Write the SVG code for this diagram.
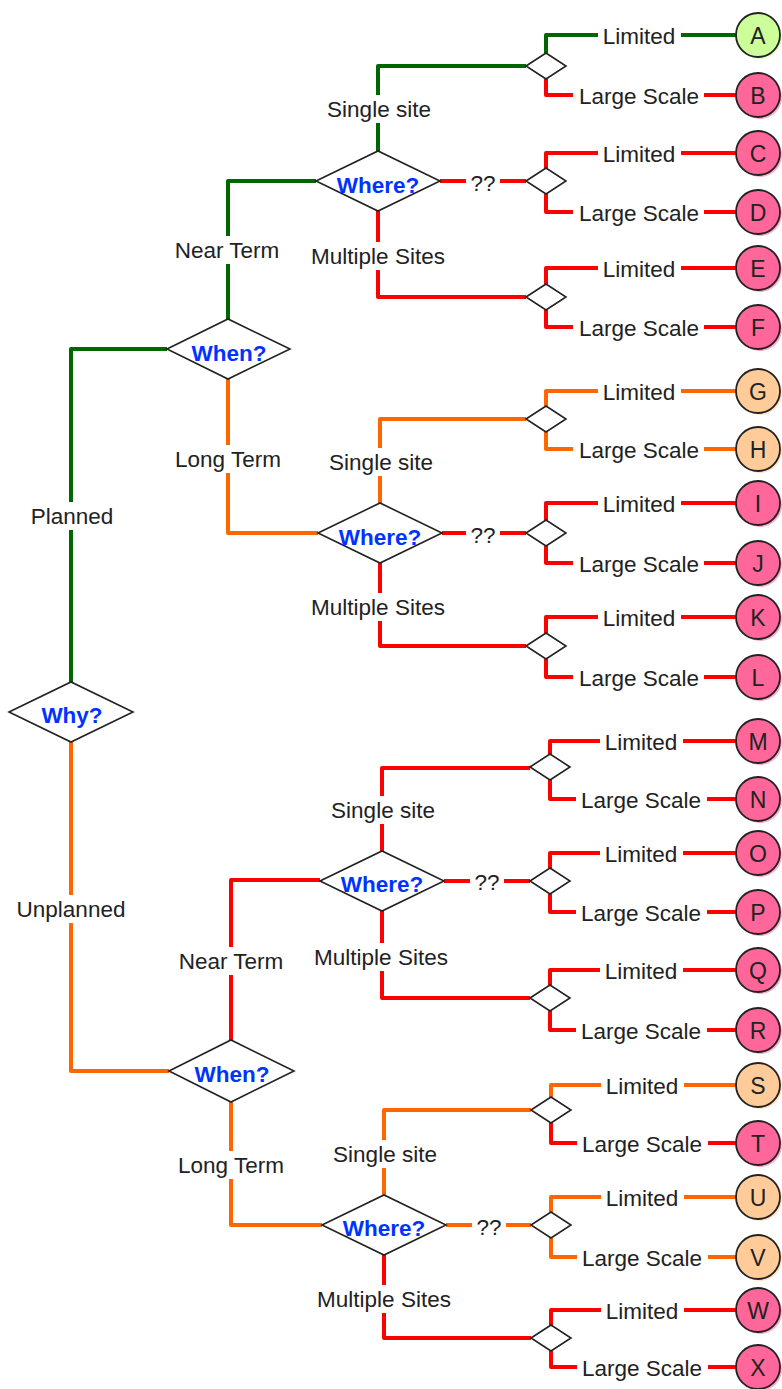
<svg xmlns="http://www.w3.org/2000/svg" width="782" height="1389" viewBox="0 0 782 1389">
<style>
.bg{fill:#fff}
.c{fill:none;stroke-width:4;stroke-linejoin:round}
.g{stroke:#006600}.o{stroke:#ff6600}.r{stroke:#ff0000}
.dia{fill:#fff;stroke:#222;stroke-width:1.6}
.q{font-family:"Liberation Sans",Arial,sans-serif;font-weight:bold;font-size:22.5px;fill:#0033ff;text-anchor:middle}
.lb{font-family:"Liberation Sans",Arial,sans-serif;font-size:22.5px;fill:#222;text-anchor:middle}
.lr{fill:#fff}
.ci{stroke:#222;stroke-width:1.8}
.sh{opacity:0.55}
.cg{fill:#ccff99}.cp{fill:#ff6699}.co{fill:#ffcc99}
.lt{font-family:"Liberation Sans",Arial,sans-serif;font-size:23px;fill:#222;text-anchor:middle}
</style>
<rect class="bg" x="0" y="0" width="782" height="1389"/>
<g id="connectors">
<path class="c g" d="M71,682 V349 H167"/>
<path class="c o" d="M71,742 V1071 H169"/>
<path class="c g" d="M228,319 V181 H316"/>
<path class="c o" d="M228,379 V533 H318"/>
<path class="c r" d="M231,1040 V880 H320"/>
<path class="c o" d="M231,1102 V1225 H322"/>
<path class="c g" d="M378,151 V66 H526"/>
<path class="c r" d="M440,181 H526"/>
<path class="c r" d="M378,211 V297 H526"/>
<path class="c o" d="M380,503 V419 H526"/>
<path class="c r" d="M442,533 H526"/>
<path class="c r" d="M380,563 V646 H526"/>
<path class="c r" d="M382,851 V768 H530"/>
<path class="c r" d="M444,881 H530"/>
<path class="c r" d="M382,911 V998 H530"/>
<path class="c o" d="M384,1195 V1110 H531"/>
<path class="c o" d="M446,1225 H531"/>
<path class="c r" d="M384,1255 V1338 H531"/>
<path class="c g" d="M546,53 V35 H736"/>
<path class="c r" d="M546,79 V95 H736"/>
<path class="c r" d="M546,168 V153 H736"/>
<path class="c r" d="M546,194 V212 H736"/>
<path class="c r" d="M546,284 V268 H736"/>
<path class="c r" d="M546,310 V327 H736"/>
<path class="c o" d="M546,406 V391 H736"/>
<path class="c o" d="M546,432 V449 H736"/>
<path class="c r" d="M546,520 V503 H736"/>
<path class="c r" d="M546,546 V563 H736"/>
<path class="c r" d="M546,633 V617 H736"/>
<path class="c r" d="M546,659 V677 H736"/>
<path class="c r" d="M550,754 V741 H736"/>
<path class="c r" d="M550,780 V799 H736"/>
<path class="c r" d="M550,868 V853 H736"/>
<path class="c r" d="M550,894 V912 H736"/>
<path class="c r" d="M550,985 V970 H736"/>
<path class="c r" d="M550,1011 V1030 H736"/>
<path class="c o" d="M551,1097 V1085 H736"/>
<path class="c r" d="M551,1123 V1143 H736"/>
<path class="c o" d="M551,1212 V1197 H736"/>
<path class="c o" d="M551,1238 V1257 H736"/>
<path class="c r" d="M551,1325 V1310 H736"/>
<path class="c r" d="M551,1351 V1367 H736"/>
<rect class="lr" x="27" y="502" width="90" height="28"/><text class="lb" x="72" y="524">Planned</text>
<rect class="lr" x="15" y="895" width="113" height="28"/><text class="lb" x="71" y="917">Unplanned</text>
<rect class="lr" x="171" y="236" width="114" height="28"/><text class="lb" x="227" y="258">Near Term</text>
<rect class="lr" x="172" y="445" width="115" height="28"/><text class="lb" x="228" y="467">Long Term</text>
<rect class="lr" x="174" y="947" width="114" height="28"/><text class="lb" x="231" y="969">Near Term</text>
<rect class="lr" x="174" y="1151" width="115" height="28"/><text class="lb" x="231" y="1173">Long Term</text>
<rect class="lr" x="325" y="95" width="109" height="28"/><text class="lb" x="379" y="117">Single site</text>
<rect class="lr" x="309" y="242" width="139" height="28"/><text class="lb" x="378" y="264">Multiple Sites</text>
<rect class="lr" x="327" y="448" width="109" height="28"/><text class="lb" x="381" y="470">Single site</text>
<rect class="lr" x="309" y="593" width="139" height="28"/><text class="lb" x="378" y="615">Multiple Sites</text>
<rect class="lr" x="329" y="796" width="109" height="28"/><text class="lb" x="383" y="818">Single site</text>
<rect class="lr" x="312" y="943" width="139" height="28"/><text class="lb" x="381" y="965">Multiple Sites</text>
<rect class="lr" x="331" y="1140" width="109" height="28"/><text class="lb" x="385" y="1162">Single site</text>
<rect class="lr" x="315" y="1285" width="139" height="28"/><text class="lb" x="384" y="1307">Multiple Sites</text>
<rect class="lr" x="466" y="170" width="34" height="24"/><text class="lb" x="483" y="191">??</text>
<rect class="lr" x="466" y="522" width="34" height="24"/><text class="lb" x="483" y="543">??</text>
<rect class="lr" x="470" y="869" width="34" height="24"/><text class="lb" x="487" y="890">??</text>
<rect class="lr" x="472" y="1213" width="34" height="24"/><text class="lb" x="489" y="1235">??</text>
<rect class="lr" x="598" y="23" width="83" height="24"/><text class="lb" x="639" y="44">Limited</text>
<rect class="lr" x="573" y="83" width="131" height="24"/><text class="lb" x="639" y="104">Large Scale</text>
<rect class="lr" x="598" y="141" width="83" height="24"/><text class="lb" x="639" y="162">Limited</text>
<rect class="lr" x="573" y="200" width="131" height="24"/><text class="lb" x="639" y="221">Large Scale</text>
<rect class="lr" x="598" y="256" width="83" height="24"/><text class="lb" x="639" y="277">Limited</text>
<rect class="lr" x="573" y="315" width="131" height="24"/><text class="lb" x="639" y="336">Large Scale</text>
<rect class="lr" x="598" y="379" width="83" height="24"/><text class="lb" x="639" y="400">Limited</text>
<rect class="lr" x="573" y="437" width="131" height="24"/><text class="lb" x="639" y="458">Large Scale</text>
<rect class="lr" x="598" y="491" width="83" height="24"/><text class="lb" x="639" y="512">Limited</text>
<rect class="lr" x="573" y="551" width="131" height="24"/><text class="lb" x="639" y="572">Large Scale</text>
<rect class="lr" x="598" y="605" width="83" height="24"/><text class="lb" x="639" y="626">Limited</text>
<rect class="lr" x="573" y="665" width="131" height="24"/><text class="lb" x="639" y="686">Large Scale</text>
<rect class="lr" x="600" y="729" width="83" height="24"/><text class="lb" x="641" y="750">Limited</text>
<rect class="lr" x="576" y="787" width="131" height="24"/><text class="lb" x="641" y="808">Large Scale</text>
<rect class="lr" x="600" y="841" width="83" height="24"/><text class="lb" x="641" y="862">Limited</text>
<rect class="lr" x="576" y="900" width="131" height="24"/><text class="lb" x="641" y="921">Large Scale</text>
<rect class="lr" x="600" y="958" width="83" height="24"/><text class="lb" x="641" y="979">Limited</text>
<rect class="lr" x="576" y="1018" width="131" height="24"/><text class="lb" x="641" y="1039">Large Scale</text>
<rect class="lr" x="601" y="1073" width="83" height="24"/><text class="lb" x="642" y="1094">Limited</text>
<rect class="lr" x="577" y="1131" width="131" height="24"/><text class="lb" x="642" y="1152">Large Scale</text>
<rect class="lr" x="601" y="1185" width="83" height="24"/><text class="lb" x="642" y="1206">Limited</text>
<rect class="lr" x="577" y="1245" width="131" height="24"/><text class="lb" x="642" y="1266">Large Scale</text>
<rect class="lr" x="601" y="1298" width="83" height="24"/><text class="lb" x="642" y="1319">Limited</text>
<rect class="lr" x="577" y="1355" width="131" height="24"/><text class="lb" x="642" y="1376">Large Scale</text>
</g>
<g id="why"><polygon class="dia" points="9,712 71,682 133,712 71,742"/><text class="q" x="72" y="723">Why?</text></g>
<g id="when1"><polygon class="dia" points="167,349 228,319 290,349 228,379"/><text class="q" x="229" y="361">When?</text></g>
<g id="when2"><polygon class="dia" points="169,1071 231,1040 294,1071 231,1102"/><text class="q" x="232" y="1082">When?</text></g>
<g id="where1"><polygon class="dia" points="316,181 378,151 440,181 378,211"/><text class="q" x="378" y="193">Where?</text></g>
<g id="where2"><polygon class="dia" points="318,533 380,503 442,533 380,563"/><text class="q" x="380" y="545">Where?</text></g>
<g id="where3"><polygon class="dia" points="320,881 382,851 444,881 382,911"/><text class="q" x="382" y="892">Where?</text></g>
<g id="where4"><polygon class="dia" points="322,1225 384,1195 446,1225 384,1255"/><text class="q" x="384" y="1236">Where?</text></g>
<g id="sd1"><polygon class="dia" points="526,66 546,53 566,66 546,79"/></g>
<g id="sd2"><polygon class="dia" points="526,181 546,168 566,181 546,194"/></g>
<g id="sd3"><polygon class="dia" points="526,297 546,284 566,297 546,310"/></g>
<g id="sd4"><polygon class="dia" points="526,419 546,406 566,419 546,432"/></g>
<g id="sd5"><polygon class="dia" points="526,533 546,520 566,533 546,546"/></g>
<g id="sd6"><polygon class="dia" points="526,646 546,633 566,646 546,659"/></g>
<g id="sd7"><polygon class="dia" points="530,767 550,754 570,767 550,780"/></g>
<g id="sd8"><polygon class="dia" points="530,881 550,868 570,881 550,894"/></g>
<g id="sd9"><polygon class="dia" points="530,998 550,985 570,998 550,1011"/></g>
<g id="sd10"><polygon class="dia" points="531,1110 551,1097 571,1110 551,1123"/></g>
<g id="sd11"><polygon class="dia" points="531,1225 551,1212 571,1225 551,1238"/></g>
<g id="sd12"><polygon class="dia" points="531,1338 551,1325 571,1338 551,1351"/></g>
<g id="A"><circle class="cg sh" cx="760" cy="37" r="22"/><circle class="cg ci" cx="758" cy="35" r="22"/><text class="lt" x="758" y="44">A</text></g>
<g id="B"><circle class="cp sh" cx="760" cy="97" r="22"/><circle class="cp ci" cx="758" cy="95" r="22"/><text class="lt" x="758" y="104">B</text></g>
<g id="C"><circle class="cp sh" cx="760" cy="155" r="22"/><circle class="cp ci" cx="758" cy="153" r="22"/><text class="lt" x="758" y="162">C</text></g>
<g id="D"><circle class="cp sh" cx="760" cy="214" r="22"/><circle class="cp ci" cx="758" cy="212" r="22"/><text class="lt" x="758" y="221">D</text></g>
<g id="E"><circle class="cp sh" cx="760" cy="270" r="22"/><circle class="cp ci" cx="758" cy="268" r="22"/><text class="lt" x="758" y="277">E</text></g>
<g id="F"><circle class="cp sh" cx="760" cy="329" r="22"/><circle class="cp ci" cx="758" cy="327" r="22"/><text class="lt" x="758" y="336">F</text></g>
<g id="G"><circle class="co sh" cx="760" cy="393" r="22"/><circle class="co ci" cx="758" cy="391" r="22"/><text class="lt" x="758" y="400">G</text></g>
<g id="H"><circle class="co sh" cx="760" cy="451" r="22"/><circle class="co ci" cx="758" cy="449" r="22"/><text class="lt" x="758" y="458">H</text></g>
<g id="I"><circle class="cp sh" cx="760" cy="505" r="22"/><circle class="cp ci" cx="758" cy="503" r="22"/><text class="lt" x="758" y="512">I</text></g>
<g id="J"><circle class="cp sh" cx="760" cy="565" r="22"/><circle class="cp ci" cx="758" cy="563" r="22"/><text class="lt" x="758" y="572">J</text></g>
<g id="K"><circle class="cp sh" cx="760" cy="619" r="22"/><circle class="cp ci" cx="758" cy="617" r="22"/><text class="lt" x="758" y="626">K</text></g>
<g id="L"><circle class="cp sh" cx="760" cy="679" r="22"/><circle class="cp ci" cx="758" cy="677" r="22"/><text class="lt" x="758" y="686">L</text></g>
<g id="M"><circle class="cp sh" cx="760" cy="743" r="22"/><circle class="cp ci" cx="758" cy="741" r="22"/><text class="lt" x="758" y="750">M</text></g>
<g id="N"><circle class="cp sh" cx="760" cy="801" r="22"/><circle class="cp ci" cx="758" cy="799" r="22"/><text class="lt" x="758" y="808">N</text></g>
<g id="O"><circle class="cp sh" cx="760" cy="855" r="22"/><circle class="cp ci" cx="758" cy="853" r="22"/><text class="lt" x="758" y="862">O</text></g>
<g id="P"><circle class="cp sh" cx="760" cy="914" r="22"/><circle class="cp ci" cx="758" cy="912" r="22"/><text class="lt" x="758" y="921">P</text></g>
<g id="Q"><circle class="cp sh" cx="760" cy="972" r="22"/><circle class="cp ci" cx="758" cy="970" r="22"/><text class="lt" x="758" y="979">Q</text></g>
<g id="R"><circle class="cp sh" cx="760" cy="1032" r="22"/><circle class="cp ci" cx="758" cy="1030" r="22"/><text class="lt" x="758" y="1039">R</text></g>
<g id="S"><circle class="co sh" cx="760" cy="1087" r="22"/><circle class="co ci" cx="758" cy="1085" r="22"/><text class="lt" x="758" y="1094">S</text></g>
<g id="T"><circle class="cp sh" cx="760" cy="1145" r="22"/><circle class="cp ci" cx="758" cy="1143" r="22"/><text class="lt" x="758" y="1152">T</text></g>
<g id="U"><circle class="co sh" cx="760" cy="1199" r="22"/><circle class="co ci" cx="758" cy="1197" r="22"/><text class="lt" x="758" y="1206">U</text></g>
<g id="V"><circle class="co sh" cx="760" cy="1259" r="22"/><circle class="co ci" cx="758" cy="1257" r="22"/><text class="lt" x="758" y="1266">V</text></g>
<g id="W"><circle class="cp sh" cx="760" cy="1312" r="22"/><circle class="cp ci" cx="758" cy="1310" r="22"/><text class="lt" x="758" y="1319">W</text></g>
<g id="X"><circle class="cp sh" cx="760" cy="1369" r="22"/><circle class="cp ci" cx="758" cy="1367" r="22"/><text class="lt" x="758" y="1376">X</text></g>
</svg>
